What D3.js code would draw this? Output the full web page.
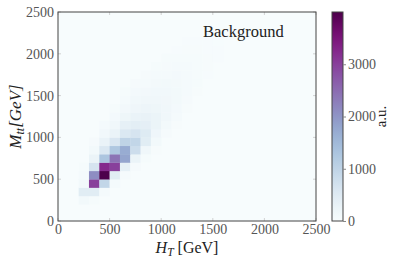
<!DOCTYPE html>
<html>
<head>
<meta charset="utf-8">
<script src="https://cdn.jsdelivr.net/npm/d3@7"></script>
<style>
  body { margin: 0; background: #fff; }
  text { font-family: "Liberation Serif", "DejaVu Serif", serif; }
</style>
</head>
<body>
<svg id="chart"></svg>
<script>
// histogram of background events, 100 GeV bins
var binWidth = 100;
// lower edge of each M_tt row, first H_T bin of the row, counts along H_T
var mRows   = [200, 300, 400, 500, 600, 700, 800, 900, 1000, 1100, 1200, 1300, 1400, 1500, 1600, 1700, 1800, 1900, 2000, 2100];
var htStart = [200, 200, 200, 200, 200, 300, 300, 300, 400, 400, 500, 500, 600, 600, 700, 800, 900, 1000, 1100, 1200];
var counts = [
  [100, 40],
  [450, 450, 60],
  [100, 3000, 950, 60],
  [60, 2100, 4000, 450, 50],
  [40, 650, 3250, 3000, 350, 50],
  [250, 1300, 2400, 1800, 250, 40],
  [100, 550, 1250, 1700, 800, 150, 30],
  [50, 280, 600, 1000, 950, 450, 100],
  [120, 280, 550, 650, 500, 180, 50],
  [60, 150, 350, 420, 380, 250, 100, 30],
  [80, 200, 280, 300, 250, 150, 60],
  [40, 110, 180, 220, 200, 150, 80, 30],
  [70, 120, 150, 160, 140, 100, 50],
  [40, 80, 110, 120, 120, 100, 60, 30],
  [50, 70, 90, 100, 90, 70, 40],
  [50, 60, 70, 80, 60, 45, 25],
  [40, 50, 55, 55, 45, 30],
  [35, 40, 40, 40, 30, 20],
  [25, 30, 30, 25, 20],
  [20, 20, 20, 15]
];
var xTicks = [0, 500, 1000, 1500, 2000, 2500];
var yTicks = [0, 500, 1000, 1500, 2000, 2500];
var cbarTicks = [0, 1000, 2000, 3000];
var cbarMax = 4000;

var svgW = 399, svgH = 265;
var plotL = 58, plotR = 316, plotT = 12, plotB = 221;
var cbL = 332, cbR = 343;

// flatten rows into cells
var cells = [];
for (var r = 0; r < mRows.length; r++) {
  for (var k = 0; k < counts[r].length; k++) {
    cells.push({ ht: htStart[r] + k * binWidth, m: mRows[r], v: counts[r][k] });
  }
}

var svg = d3.select("#chart")
  .attr("width", svgW)
  .attr("height", svgH);

var xScale = d3.scaleLinear().domain([0, 2500]).range([plotL, plotR]);
var yScale = d3.scaleLinear().domain([0, 2500]).range([plotB, plotT]);
var color = d3.scaleSequential(d3.interpolateBuPu).domain([0, cbarMax]);

// empty bins
svg.append("rect")
  .attr("x", plotL).attr("y", plotT)
  .attr("width", plotR - plotL).attr("height", plotB - plotT)
  .attr("fill", color(0));

svg.append("g").selectAll("rect")
  .data(cells)
  .enter()
  .append("rect")
    .attr("x", function(d){ return xScale(d.ht); })
    .attr("y", function(d){ return yScale(d.m + binWidth); })
    .attr("width", function(d){ return xScale(d.ht + binWidth) - xScale(d.ht) + 0.3; })
    .attr("height", function(d){ return yScale(d.m) - yScale(d.m + binWidth) + 0.3; })
    .attr("fill", function(d){ return color(d.v); });

// small inward ticks on all sides
var tickCol = "#c8c8c8";
var inner = svg.append("g").attr("stroke", tickCol).attr("stroke-width", 0.8);
xTicks.forEach(function(t){
  inner.append("line").attr("x1", xScale(t)).attr("x2", xScale(t)).attr("y1", plotB).attr("y2", plotB - 3);
  inner.append("line").attr("x1", xScale(t)).attr("x2", xScale(t)).attr("y1", plotT).attr("y2", plotT + 3);
});
yTicks.forEach(function(t){
  inner.append("line").attr("y1", yScale(t)).attr("y2", yScale(t)).attr("x1", plotL).attr("x2", plotL + 3);
  inner.append("line").attr("y1", yScale(t)).attr("y2", yScale(t)).attr("x1", plotR).attr("x2", plotR - 3);
});

var fmt = d3.format("d");

var xAxis = d3.axisBottom(xScale).tickValues(xTicks).tickFormat(fmt).tickSize(0).tickPadding(3.5);
var gx = svg.append("g")
  .attr("transform", "translate(0," + plotB + ")")
  .call(xAxis);
gx.select(".domain").remove();
gx.selectAll("text")
  .attr("font-size", 14)
  .attr("fill", "#555");

var yAxis = d3.axisLeft(yScale).tickValues(yTicks).tickFormat(fmt).tickSize(0).tickPadding(4);
var gy = svg.append("g")
  .attr("transform", "translate(" + plotL + ",0)")
  .call(yAxis);
gy.select(".domain").remove();
gy.selectAll("text")
  .attr("font-size", 14)
  .attr("fill", "#555");

// frame
svg.append("rect")
  .attr("x", plotL).attr("y", plotT)
  .attr("width", plotR - plotL).attr("height", plotB - plotT)
  .attr("fill", "none")
  .attr("stroke", "#444")
  .attr("stroke-width", 1);

svg.append("text")
  .attr("x", 203).attr("y", 37)
  .attr("font-size", 16.5)
  .attr("fill", "#222")
  .text("Background");

// axis titles
var xt = svg.append("text")
  .attr("x", (plotL + plotR) / 2).attr("y", 253)
  .attr("text-anchor", "middle")
  .attr("font-size", 16)
  .attr("fill", "#222");
xt.append("tspan").attr("font-style", "italic").text("H");
xt.append("tspan").attr("font-style", "italic").attr("font-size", 11.5).attr("dy", 3).text("T");
xt.append("tspan").attr("dy", -3).text(" [GeV]");

var yt = svg.append("text")
  .attr("transform", "translate(21," + (plotT + plotB) / 2 + ") rotate(-90)")
  .attr("text-anchor", "middle")
  .attr("font-size", 17)
  .attr("font-style", "italic")
  .attr("fill", "#222");
yt.append("tspan").text("M");
yt.append("tspan").attr("font-size", 12).attr("dy", 3).text("tt");
yt.append("tspan").attr("dy", -3).text("[GeV]");

// colour bar
var cbScale = d3.scaleLinear().domain([0, cbarMax]).range([plotB, plotT]);
var grad = svg.append("defs").append("linearGradient")
  .attr("id", "cbgrad")
  .attr("x1", 0).attr("y1", 1).attr("x2", 0).attr("y2", 0);
d3.range(0, 1.0001, 0.05).forEach(function(t){
  grad.append("stop").attr("offset", t).attr("stop-color", d3.interpolateBuPu(t));
});
svg.append("rect")
  .attr("x", cbL).attr("y", plotT)
  .attr("width", cbR - cbL).attr("height", plotB - plotT)
  .attr("fill", "url(#cbgrad)")
  .attr("stroke", "#444")
  .attr("stroke-width", 1);

var cbAxis = d3.axisRight(cbScale).tickValues(cbarTicks).tickFormat(fmt).tickSize(3).tickPadding(2);
var gc = svg.append("g")
  .attr("transform", "translate(" + cbR + ",0)")
  .call(cbAxis);
gc.select(".domain").remove();
gc.selectAll("line").attr("stroke", "#888");
gc.selectAll("text")
  .attr("font-size", 14)
  .attr("fill", "#555");

svg.append("text")
  .attr("transform", "translate(386," + (plotT + plotB) / 2 + ") rotate(-90)")
  .attr("text-anchor", "middle")
  .attr("font-size", 15)
  .attr("fill", "#222")
  .text("a.u.");
</script>
</body>
</html>
